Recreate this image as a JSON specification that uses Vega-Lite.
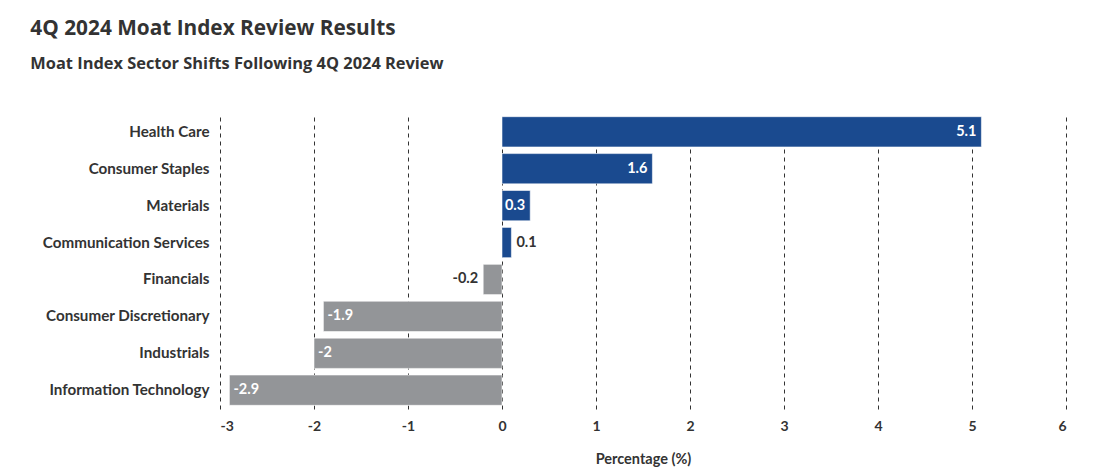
{
  "$schema": "https://vega.github.io/schema/vega-lite/v6.json",
  "width": 846,
  "height": 296,
  "padding": {"left": 30, "top": 17, "right": 33, "bottom": 5},
  "background": "white",
  "title": {
    "text": "4Q 2024 Moat Index Review Results",
    "subtitle": "Moat Index Sector Shifts Following 4Q 2024 Review",
    "anchor": "start",
    "frame": "bounds",
    "dx": -12,
    "font": "Open Sans",
    "fontSize": 20.8,
    "fontWeight": "bold",
    "color": "#333333",
    "subtitleFont": "Open Sans",
    "subtitleFontSize": 16.4,
    "subtitleFontWeight": "bold",
    "subtitleColor": "#333333",
    "subtitlePadding": 16,
    "offset": 40
  },
  "data": {
    "values": [
      {"sector": "Health Care", "value": 5.1},
      {"sector": "Consumer Staples", "value": 1.6},
      {"sector": "Materials", "value": 0.3},
      {"sector": "Communication Services", "value": 0.1},
      {"sector": "Financials", "value": -0.2},
      {"sector": "Consumer Discretionary", "value": -1.9},
      {"sector": "Industrials", "value": -2},
      {"sector": "Information Technology", "value": -2.9}
    ]
  },
  "encoding": {
    "y": {
      "field": "sector",
      "type": "nominal",
      "sort": null,
      "title": null,
      "scale": {"paddingInner": 0.18, "paddingOuter": 0.1},
      "axis": {
        "domain": false,
        "ticks": false,
        "labelFont": "Lato",
        "labelFontSize": 15.2,
        "labelFontWeight": "bold",
        "labelColor": "#333333",
        "labelPadding": 11
      }
    },
    "x": {
      "field": "value",
      "type": "quantitative",
      "title": "Percentage (%)",
      "scale": {"domain": [-3, 6], "nice": false},
      "axis": {
        "values": [-3, -2, -1, 0, 1, 2, 3, 4, 5, 6],
        "domain": false,
        "ticks": false,
        "grid": true,
        "gridDash": [4, 4],
        "gridColor": "#333333",
        "gridWidth": 1,
        "gridOpacity": 1,
        "labelFont": "Lato",
        "labelFontSize": 14,
        "labelFontWeight": "bold",
        "labelColor": "#333333",
        "labelPadding": 10,
        "titleFont": "Lato",
        "titleFontSize": 14.5,
        "titleFontWeight": "bold",
        "titleColor": "#333333",
        "titlePadding": 19
      }
    }
  },
  "layer": [
    {
      "mark": {"type": "bar", "stroke": "#ffffff", "strokeOpacity": 0.55, "strokeWidth": 1},
      "encoding": {
        "color": {
          "condition": {"test": "datum.value >= 0", "value": "#1a4a8f"},
          "value": "#939598"
        }
      }
    },
    {
      "transform": [{"filter": "datum.value >= 0.25"}],
      "mark": {"type": "text", "align": "right", "dx": -5, "font": "Lato", "fontSize": 14.5, "fontWeight": "bold", "color": "#ffffff"},
      "encoding": {"text": {"field": "value", "type": "quantitative"}}
    },
    {
      "transform": [{"filter": "datum.value >= 0 && datum.value < 0.25"}],
      "mark": {"type": "text", "align": "left", "dx": 5, "font": "Lato", "fontSize": 14.5, "fontWeight": "bold", "color": "#333333"},
      "encoding": {"text": {"field": "value", "type": "quantitative"}}
    },
    {
      "transform": [{"filter": "datum.value <= -0.25"}],
      "mark": {"type": "text", "align": "left", "dx": 4, "font": "Lato", "fontSize": 14.5, "fontWeight": "bold", "color": "#ffffff"},
      "encoding": {"text": {"field": "value", "type": "quantitative"}}
    },
    {
      "transform": [{"filter": "datum.value < 0 && datum.value > -0.25"}],
      "mark": {"type": "text", "align": "right", "dx": -5, "font": "Lato", "fontSize": 14.5, "fontWeight": "bold", "color": "#333333"},
      "encoding": {"text": {"field": "value", "type": "quantitative"}}
    }
  ],
  "config": {
    "view": {"stroke": null},
    "locale": {"number": {"decimal": ".", "thousands": ",", "grouping": [3], "currency": ["$", ""], "minus": "-"}}
  }
}
